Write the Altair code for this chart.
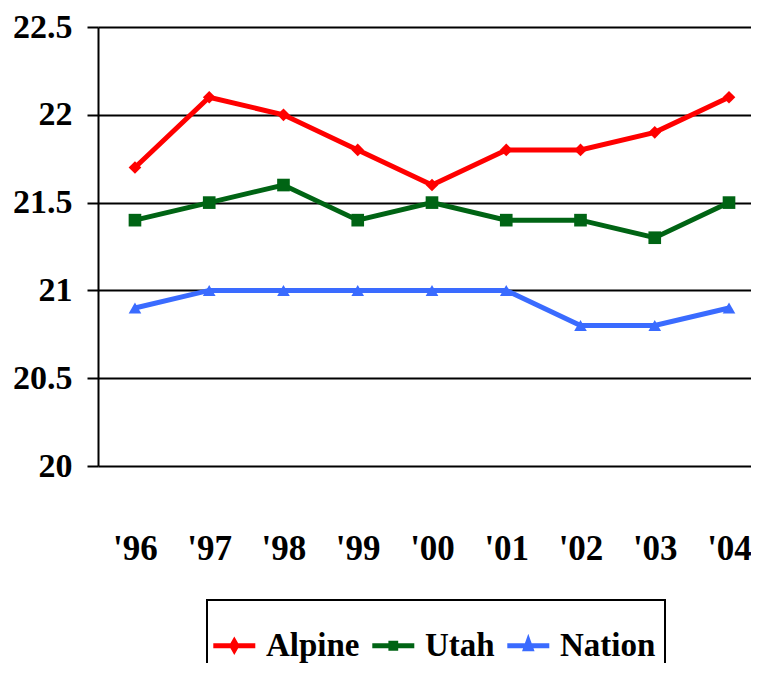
import altair as alt
import pandas as pd

years = ["'96", "'97", "'98", "'99", "'00", "'01", "'02", "'03", "'04"]
alpine = [21.7, 22.1, 22.0, 21.8, 21.6, 21.8, 21.8, 21.9, 22.1]
utah = [21.4, 21.5, 21.6, 21.4, 21.5, 21.4, 21.4, 21.3, 21.5]
nation = [20.9, 21.0, 21.0, 21.0, 21.0, 21.0, 20.8, 20.8, 20.9]
series = ["Alpine", "Utah", "Nation"]
colors = ["#FF0000", "#006414", "#3A6BFF"]
marker_shapes = ["diamond", "square", "triangle-up"]
legend_shapes = [
    "M-3.2,0H3.8M0.3,-0.7L0.7,0L0.3,0.7L-0.1,0Z",
    "M-3.2,0H3.8M-0.1,-0.4H0.7V0.4H-0.1Z",
    "M-3.2,0H3.8M0.3,-0.75L0.75,0.5H-0.15Z",
]
y_ticks = [20, 20.5, 21, 21.5, 22, 22.5]

rows = []
for name, vals in zip(series, [alpine, utah, nation]):
    for yr, v in zip(years, vals):
        rows.append({"year": yr, "value": v, "series": name})
df = pd.DataFrame(rows)

FONT = "Liberation Serif"

x = alt.X(
    "year:O",
    sort=years,
    scale=alt.Scale(type="point", padding=0.397, align=0.627),
    axis=alt.Axis(
        title=None, labelAngle=0, ticks=False, domain=False, grid=False,
        labelFont=FONT, labelFontSize=35, labelFontWeight="bold",
        labelColor="black", labelPadding=65,
    ),
)
y = alt.Y(
    "value:Q",
    scale=alt.Scale(domain=[20, 22.5], nice=False, zero=False),
    axis=alt.Axis(
        values=y_ticks, format="~g", title=None, grid=True,
        gridColor="black", gridWidth=2, gridOpacity=1,
        tickSize=11, tickColor="black", tickWidth=2,
        domainColor="black", domainWidth=2,
        labelFont=FONT, labelFontSize=34, labelFontWeight="bold",
        labelColor="black", labelPadding=15,
    ),
)

color_scale = alt.Scale(domain=series, range=colors)

lines = alt.Chart(df).mark_line(strokeWidth=5).encode(
    x=x, y=y,
    color=alt.Color("series:N", scale=color_scale, legend=None),
)

points = alt.Chart(df).mark_point(filled=True, size=160, opacity=1).encode(
    x=x, y=y,
    color=alt.Color("series:N", scale=color_scale, legend=None),
    shape=alt.Shape("series:N", scale=alt.Scale(domain=series, range=marker_shapes), legend=None),
)

leg = alt.Legend(
    title=" ", titleFontSize=20, titlePadding=0, titleFont=FONT,
    orient="none", legendX=109, legendY=573, direction="horizontal",
    strokeColor="black", padding=9,
    labelFont=FONT, labelFontSize=33, labelFontWeight="bold", labelColor="black",
    symbolSize=144, symbolStrokeWidth=5, labelOffset=17, columnPadding=2,
)

legend_layer = alt.Chart(df).transform_filter("false").mark_point(filled=True, opacity=1).encode(
    x=x, y=y,
    fill=alt.Fill("series:N", scale=color_scale, legend=leg),
    stroke=alt.Stroke("series:N", scale=color_scale, legend=leg),
    shape=alt.Shape("series:N", scale=alt.Scale(domain=series, range=legend_shapes), legend=leg),
)

chart = alt.layer(lines, points, legend_layer).resolve_scale(
    shape="independent", fill="independent", stroke="independent"
).properties(
    width=653, height=439,
    autosize=alt.AutoSizeParams(type="none"),
    padding={"left": 90, "top": 19, "right": 0, "bottom": 197},
    background="white",
).configure(
    font=FONT
).configure_legend(
    strokeWidth=2
).configure_view(stroke=None)

chart.save("out.html", embed_options={"renderer": "svg", "actions": False})
